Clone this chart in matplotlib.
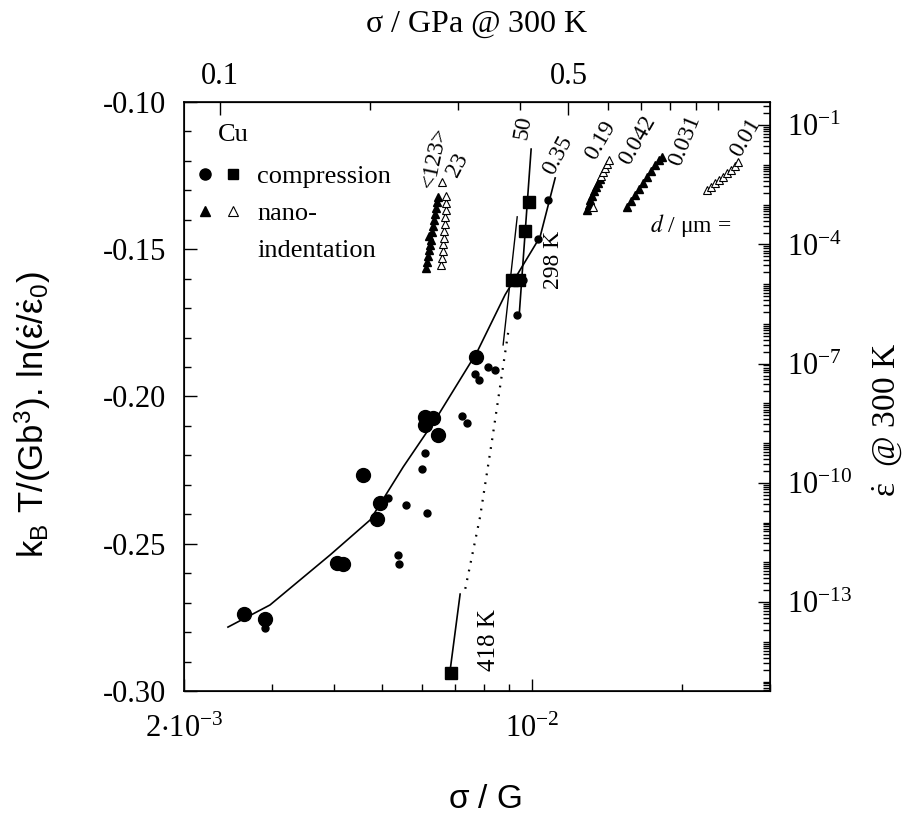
import numpy as np
import matplotlib
matplotlib.use("Agg")
import matplotlib.pyplot as plt
from matplotlib.ticker import FixedLocator, FixedFormatter, MultipleLocator, FormatStrFormatter, NullFormatter
from matplotlib.lines import Line2D
from matplotlib.legend_handler import HandlerTuple

plt.rcParams["font.family"] = ["Liberation Serif", "DejaVu Serif"]
plt.rcParams["axes.unicode_minus"] = False
plt.rcParams["mathtext.fontset"] = "stix"

# conversion constants (Cu, 300 K)
G_GPA = 42.3          # shear modulus, GPa
S_DEC = 0.01349       # kT/(G b^3) * ln(10)
LOG_EPS0 = 7.0        # log10 of reference strain rate

# compression, large specimens (big filled circles)
comp_big_x = [2.639e-3, 2.909e-3, 4.058e-3, 4.172e-3, 4.577e-3, 4.882e-3, 4.950e-3,
              6.097e-3, 6.325e-3, 6.097e-3, 6.473e-3, 7.716e-3]
comp_big_y = [-0.2739, -0.2756, -0.2565, -0.2569, -0.2267, -0.2416, -0.2362,
              -0.2070, -0.2073, -0.2097, -0.2131, -0.1866]

# compression, small filled circles
comp_small_x = [2.909e-3, 5.137e-3, 5.582e-3, 6.152e-3, 5.380e-3, 5.406e-3, 6.097e-3,
                6.010e-3, 7.232e-3, 7.402e-3, 7.680e-3, 7.822e-3, 8.157e-3, 8.424e-3,
                9.328e-3, 1.027e-2, 1.077e-2, 9.590e-3]
comp_small_y = [-0.2786, -0.2345, -0.2368, -0.2396, -0.2538, -0.2569, -0.2192,
                -0.2246, -0.2066, -0.2090, -0.1924, -0.1944, -0.1900, -0.1910,
                -0.1723, -0.1465, -0.1333, -0.1604]

# compression, squares (298 K and 418 K)
comp_sq_x = [9.86e-3, 9.68e-3, 9.11e-3, 9.41e-3, 6.87e-3]
comp_sq_y = [-0.1340, -0.1438, -0.1604, -0.1604, -0.2939]

# fitted curve through compression data
curve_x = [2.451e-3, 2.976e-3, 3.93e-3, 4.73e-3, 5.51e-3, 6.44e-3, 7.75e-3, 8.82e-3, 1.037e-2, 1.112e-2]
curve_y = [-0.2783, -0.2708, -0.2538, -0.2419, -0.2239, -0.2070, -0.1849, -0.1655, -0.1458, -0.1258]

line_50_x = [9.95e-3, 9.41e-3]
line_50_y = [-0.1160, -0.1730]
line_298_x = [9.33e-3, 8.742e-3]
line_298_y = [-0.1390, -0.1825]
line_418_x = [7.166e-3, 6.844e-3]
line_418_y = [-0.2671, -0.2929]
dotted_x = [8.946e-3, 8.307e-3, 7.858e-3, 7.331e-3]
dotted_y = [-0.1784, -0.2148, -0.2409, -0.2657]

# nanoindentation, <123> single crystal (filled triangles)
ni_123_x = [6.125e-3, 6.152e-3, 6.180e-3, 6.209e-3, 6.238e-3, 6.267e-3, 6.209e-3,
            6.296e-3, 6.325e-3, 6.354e-3, 6.383e-3, 6.413e-3, 6.442e-3, 6.471e-3]
ni_123_y = [-0.1564, -0.1543, -0.1523, -0.1503, -0.1486, -0.1469, -0.1455,
            -0.1441, -0.1421, -0.1401, -0.1380, -0.1360, -0.1340, -0.1323]
# d = 23 um (open triangles)
ni_23_x = [6.561e-3, 6.591e-3, 6.622e-3, 6.622e-3, 6.652e-3, 6.652e-3, 6.683e-3,
           6.683e-3, 6.714e-3, 6.714e-3, 6.714e-3, 6.591e-3]
ni_23_y = [-0.1553, -0.1530, -0.1506, -0.1482, -0.1462, -0.1438, -0.1414,
           -0.1390, -0.1367, -0.1343, -0.1319, -0.1272]
# d = 0.19 um
ni_019f_x = [1.289e-2, 1.301e-2, 1.307e-2, 1.319e-2, 1.332e-2, 1.344e-2, 1.356e-2, 1.369e-2]
ni_019f_y = [-0.1367, -0.1350, -0.1333, -0.1319, -0.1302, -0.1289, -0.1275, -0.1261]
ni_019o_x = [1.325e-2, 1.375e-2, 1.388e-2, 1.401e-2, 1.414e-2, 1.427e-2]
ni_019o_y = [-0.1357, -0.1251, -0.1238, -0.1224, -0.1211, -0.1197]
# d = 0.042 / 0.031 um
ni_042_x = [1.551e-2, 1.580e-2, 1.609e-2, 1.640e-2, 1.670e-2, 1.701e-2, 1.733e-2, 1.766e-2, 1.798e-2, 1.823e-2]
ni_042_y = [-0.1357, -0.1336, -0.1316, -0.1295, -0.1275, -0.1255, -0.1234, -0.1214, -0.1197, -0.1187]
# d = 0.01 um
ni_001_x = [2.245e-2, 2.287e-2, 2.329e-2, 2.373e-2, 2.417e-2, 2.463e-2, 2.508e-2, 2.556e-2, 2.590e-2]
ni_001_y = [-0.1299, -0.1289, -0.1275, -0.1265, -0.1255, -0.1241, -0.1231, -0.1217, -0.1204]

# grain size labels: text, x, y, rotation
d_labels = [("<123>", 6.383e-3, -0.1187, 78), ("23", 7.098e-3, -0.1214, 62),
            ("50", 9.59e-3, -0.1085, 80), ("0.35", 1.127e-2, -0.1180, 62),
            ("0.19", 1.369e-2, -0.1129, 60), ("0.042", 1.625e-2, -0.1129, 60),
            ("0.031", 2.028e-2, -0.1129, 68), ("0.01", 2.677e-2, -0.1119, 60)]


def to_rate(y):
    return 10 ** (LOG_EPS0 + np.asarray(y) / S_DEC)


fig = plt.figure(figsize=(9.13, 8.23), dpi=100)
ax = fig.add_axes([0.2015, 0.1604, 0.6418, 0.7157])
ax.set_xscale("log")
ax.set_xlim(2e-3, 3e-2)
ax.set_ylim(-0.30, -0.10)

ax.plot(curve_x, curve_y, color="k", lw=1.2)
ax.plot(line_50_x, line_50_y, color="k", lw=1.2)
ax.plot(line_298_x, line_298_y, color="k", lw=1.0)
ax.plot(line_418_x, line_418_y, color="k", lw=1.2)
ax.plot(dotted_x, dotted_y, color="k", lw=1.6, ls=(0, (0.8, 3.2)))

ax.plot(comp_big_x, comp_big_y, "o", color="k", ms=10)
ax.plot(comp_small_x, comp_small_y, "o", color="k", ms=5)
ax.plot(comp_sq_x, comp_sq_y, "s", color="k", ms=8.5)

ax.plot(ni_123_x, ni_123_y, "^", color="k", ms=6)
ax.plot(ni_23_x, ni_23_y, "^", mfc="white", mec="k", mew=0.8, ms=6)
ax.plot(ni_019f_x, ni_019f_y, "^", color="k", ms=6)
ax.plot(ni_019o_x, ni_019o_y, "^", mfc="white", mec="k", mew=0.8, ms=6)
ax.plot(ni_042_x, ni_042_y, "^", color="k", ms=6)
ax.plot(ni_001_x, ni_001_y, "^", mfc="white", mec="k", mew=0.8, ms=6)

for txt, x, y, rot in d_labels:
    ax.text(x, y, txt, rotation=rot, ha="center", va="center", fontsize=17)
ax.text(2.076e-2, -0.1418, r"$\mathit{d}$ / $\mathregular{\mu}$m =", ha="center", va="center", fontsize=17)
ax.text(1.102e-2, -0.1536, "298 K", rotation=90, ha="center", va="center", fontsize=17)
ax.text(8.196e-3, -0.2827, "418 K", rotation=90, ha="center", va="center", fontsize=18)
ax.text(2.508e-3, -0.1112, "Cu", ha="center", va="center", fontsize=19)

h_circ = Line2D([], [], marker="o", ls="none", color="k", ms=8)
h_sq = Line2D([], [], marker="s", ls="none", color="k", ms=7.5)
h_tri = Line2D([], [], marker="^", ls="none", color="k", ms=6.5)
h_otri = Line2D([], [], marker="^", ls="none", mfc="white", mec="k", mew=0.8, ms=6.5)
h_none = Line2D([], [], ls="none")
ax.legend([(h_circ, h_sq), (h_tri, h_otri), h_none],
          ["compression", "nano-", "indentation"],
          handler_map={tuple: HandlerTuple(ndivide=None, pad=0.3)},
          loc="upper left", bbox_to_anchor=(0.019, 0.893), frameon=False,
          fontsize=19, handlelength=1.8, handletextpad=0.55, labelspacing=0.5,
          borderpad=0, borderaxespad=0)

# left / bottom axes
ax.yaxis.set_major_locator(MultipleLocator(0.05))
ax.yaxis.set_minor_locator(MultipleLocator(0.01))
ax.yaxis.set_major_formatter(FormatStrFormatter("%.2f"))
ax.xaxis.set_major_locator(FixedLocator([2e-3, 1e-2]))
ax.xaxis.set_major_formatter(FixedFormatter([r"$\mathregular{2{\cdot}10^{-3}}$", r"$\mathregular{10^{-2}}$"]))
ax.xaxis.set_minor_locator(FixedLocator([3e-3, 4e-3, 5e-3, 6e-3, 7e-3, 8e-3, 9e-3, 2e-2, 3e-2]))
ax.xaxis.set_minor_formatter(NullFormatter())
ax.tick_params(which="both", direction="in", top=False, right=False, labelsize=22, width=1.0)
ax.tick_params(which="major", length=9)
ax.tick_params(which="minor", length=5)
ax.tick_params(axis="y", which="major", pad=13)
ax.tick_params(axis="x", which="major", pad=17)
for sp in ax.spines.values():
    sp.set_linewidth(1.2)

ax.set_xlabel(r"$\mathregular{\sigma}$ / G", family=["Liberation Sans"], fontsize=24)
ax.xaxis.set_label_coords(0.514, -0.158)
ax.set_ylabel(r"k$_\mathregular{B}$ T/(Gb$^\mathregular{3}$). ln($\dot{\mathregular{\varepsilon}}$/$\dot{\mathregular{\varepsilon}}_\mathregular{0}$)",
              family=["Liberation Sans"], fontsize=25)
ax.yaxis.set_label_coords(-0.2235, 0.47)

# top axis: stress in GPa
secax = ax.secondary_xaxis("top", functions=(lambda x: x * G_GPA, lambda s: s / G_GPA))
secax.xaxis.set_major_locator(FixedLocator([0.1, 0.5]))
secax.xaxis.set_major_formatter(FormatStrFormatter("%g"))
secax.xaxis.set_minor_locator(FixedLocator([0.2, 0.3, 0.4, 0.6, 0.7, 0.8, 0.9, 1.0]))
secax.xaxis.set_minor_formatter(NullFormatter())
secax.tick_params(which="both", direction="in", labelsize=22, width=1.0)
secax.tick_params(which="major", length=9, pad=8)
secax.tick_params(which="minor", length=6)
secax.set_xlabel(r"$\mathregular{\sigma}$ / GPa @ 300 K", fontsize=23, labelpad=22)

# right axis: strain rate at 300 K
ax2 = ax.twinx()
ax2.set_yscale("log")
ax2.set_ylim(to_rate(-0.30), to_rate(-0.10))
ax2.yaxis.set_major_locator(FixedLocator([1e-1, 1e-4, 1e-7, 1e-10, 1e-13]))
ax2.yaxis.set_major_formatter(FixedFormatter([r"$\mathregular{10^{-1}}$", r"$\mathregular{10^{-4}}$",
                                              r"$\mathregular{10^{-7}}$", r"$\mathregular{10^{-10}}$",
                                              r"$\mathregular{10^{-13}}$"]))
rate_minor = [k * 10.0 ** n for n in range(-16, 1) for k in range(1, 10)]
ax2.yaxis.set_minor_locator(FixedLocator(rate_minor))
ax2.yaxis.set_minor_formatter(NullFormatter())
ax2.tick_params(which="both", direction="in", labelsize=22, width=1.0)
ax2.tick_params(which="major", length=9, pad=12)
ax2.tick_params(which="minor", length=5)
ax2.set_ylabel(r"$\dot{\mathregular{\varepsilon}}$  @ 300 K", fontsize=24)
ax2.yaxis.set_label_coords(1.171, 0.46)

fig.savefig("out.png", dpi=100)
